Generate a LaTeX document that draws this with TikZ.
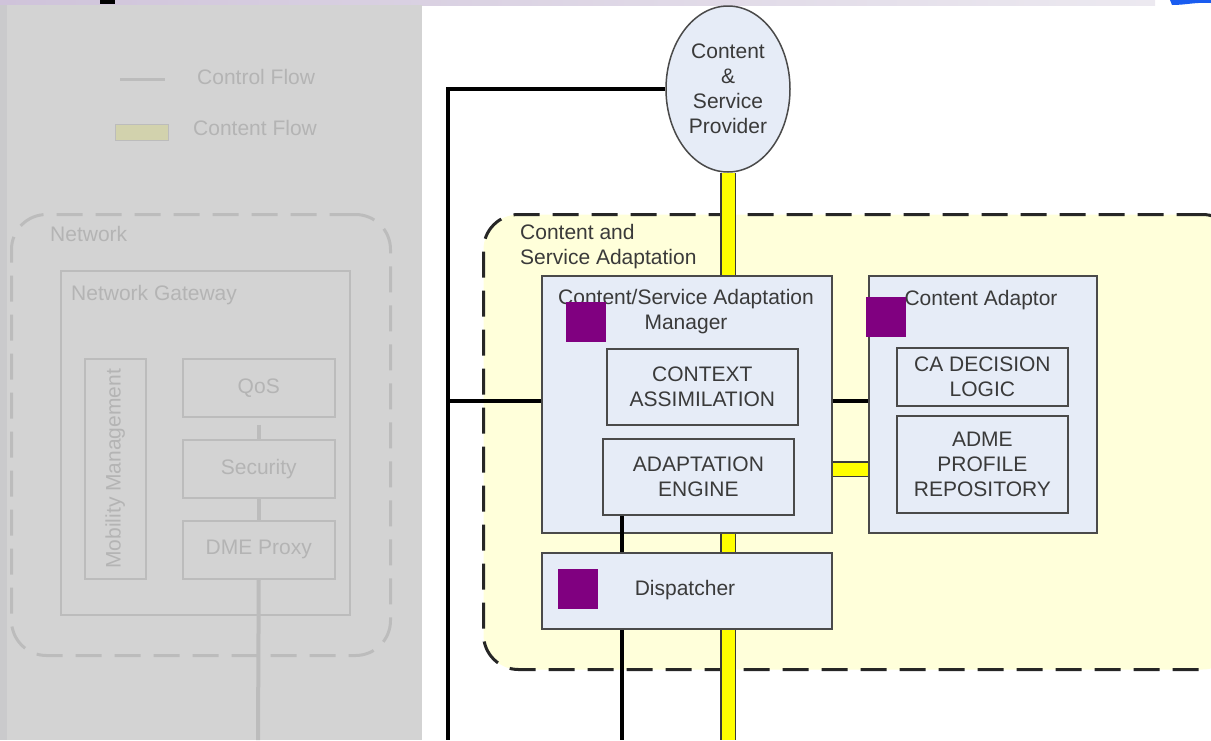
\documentclass[tikz,border=0pt]{standalone}
\usepackage{fontspec}
\setmainfont{Liberation Sans}
\usetikzlibrary{shapes.geometric,calc}

\definecolor{boxfill}{HTML}{E6ECF7}
\definecolor{boxline}{HTML}{4A4A4A}
\definecolor{ink}{HTML}{3A3A3A}
\definecolor{regionfill}{HTML}{FFFFDA}
\definecolor{marker}{HTML}{800080}
\definecolor{panel}{HTML}{D3D3D3}
\definecolor{paneledge}{HTML}{CACACC}
\definecolor{faint}{HTML}{B4B4B4}
\definecolor{faintline}{HTML}{BCBCBC}
\definecolor{legendfill}{HTML}{D2D2AD}
\definecolor{stripL}{HTML}{CFC3DA}
\definecolor{stripR}{HTML}{ECE9F0}
\definecolor{cornerblue}{HTML}{1A5CF0}
\definecolor{flow}{HTML}{FFFF00}

\tikzset{
  box/.style={draw=boxline, fill=boxfill, line width=1.8pt, inner sep=0pt,
              anchor=north west, align=center, text=ink},
  region/.style={draw=black!85, fill=regionfill, line width=3pt,
                 dash pattern=on 26pt off 13pt, rounded corners=35pt,
                 anchor=north west, inner sep=0pt},
  label/.style={text=ink, inner sep=0pt, align=center},
  marksq/.style={fill=marker, minimum size=40pt, inner sep=0pt, anchor=north west},
  ctrl/.style={draw=black, line width=4.5pt},
  content/.style={draw=ink, line width=1.4pt, double=flow, double distance=13pt},
  fbox/.style={draw=faintline, line width=1.5pt, inner sep=0pt, anchor=north west,
               text=faint, align=center},
  ftext/.style={text=faint, inner sep=0pt},
  fline/.style={draw=faintline, line width=4pt},
}

\begin{document}
\begin{tikzpicture}[x=1pt, y=-1pt, font=\fontsize{21}{25}\selectfont]
\useasboundingbox (0,0) rectangle (1211,740);

% page decoration
\shade[left color=stripL, right color=stripR] (0,0) rectangle (1155,5);
\fill[black] (100,0) rectangle (115,4);
\fill[cornerblue] (1170,0) -- (1211,0) -- (1211,3)
  .. controls (1195,2) and (1186,5) .. (1172,5) -- cycle;

% ---------------- grey panel: network side ----------------
\fill[panel] (0,5) rectangle (422,740);
\fill[paneledge] (0,5) rectangle (7,740);

% legend
\coordinate (lg1) at (120,79);
\coordinate (lg2) at (165,79);
\draw[draw=faintline, line width=3pt] (lg1) -- (lg2);
\node[ftext, anchor=west] (lgt1) at (197,77) {Control Flow};
\node[draw=faintline, fill=legendfill, line width=1.2pt, inner sep=0pt,
      minimum width=53pt, minimum height=16pt, anchor=north west] (lgbox) at (115,124) {};
\node[ftext, anchor=west] (lgt2) at (193,128) {Content Flow};

% network container
\node[fbox, draw=faintline, line width=3pt, dash pattern=on 26pt off 13pt,
      rounded corners=35pt, minimum width=379pt, minimum height=441pt] (net) at (10,213) {};
\node[ftext, anchor=west] (nett) at (50,234) {Network};
\node[fbox, minimum width=289pt, minimum height=344pt] (gw) at (60,270) {};
\node[ftext, anchor=west] (gwt) at (71,295) {Network Gateway};

\node[fbox, minimum width=61pt, minimum height=220pt] (mob) at (84,358) {};
\node[ftext, rotate=90] (mobt) at (mob.center) {Mobility Management};
\node[fbox, minimum width=152pt, minimum height=58pt] (qos) at (182,358) {QoS};
\node[fbox, minimum width=152pt, minimum height=58pt] (sec) at (182,439) {Security};
\node[fbox, minimum width=152pt, minimum height=58pt] (dme) at (182,520) {DME Proxy};
\coordinate (dmeout) at (258,740);
\draw[fline] ($(qos.south)+(0,7)$) -- (sec.north);
\draw[fline] (sec.south) -- (dme.north);
\draw[fline] (dme.south) -- (dmeout);

% ---------------- adaptation side ----------------
\node[region, minimum width=754pt, minimum height=455pt] (csa) at (482,213) {};
\node[label, anchor=west, align=left] (csat) at (520,247) {Content and\\Service Adaptation};

\node[ellipse, draw=boxline, fill=boxfill, line width=1.5pt, inner sep=0pt,
      minimum width=124pt, minimum height=166pt, align=center, text=ink]
      (prov) at (728,89) {Content\\\&\\Service\\Provider};

% adaptation manager
\node[box, minimum width=290pt, minimum height=257pt] (csam) at (541,275) {};
\node[label] (csamt) at (686,312) {Content/Service Adaptation\\Manager};
\node[marksq] (sq1) at (566,302) {};
\node[box, minimum width=191pt, minimum height=76pt] (cx) at (606,348) {CONTEXT\\ASSIMILATION};
\node[box, minimum width=191pt, minimum height=76pt] (ae) at (602,438) {ADAPTATION\\ENGINE};

% content adaptor
\node[box, minimum width=228pt, minimum height=257pt] (ca) at (868,275) {};
\node[label] (cat) at (981,300) {Content Adaptor};
\node[marksq] (sq2) at (866,297) {};
\node[box, minimum width=171pt, minimum height=58pt] (cdl) at (896,347) {CA DECISION\\LOGIC};
\node[box, minimum width=171pt, minimum height=97pt] (adme) at (896,415) {ADME\\PROFILE\\REPOSITORY};

% dispatcher
\node[box, minimum width=290pt, minimum height=76pt] (disp) at (541,552) {};
\node[label] (dispt) at (685,590) {Dispatcher};
\node[marksq] (sq3) at (558,569) {};

% control flow
\coordinate (lbot) at (448,740);
\coordinate (j) at (448,401);
\draw[ctrl] (prov.west) -| (lbot);
\draw[ctrl] (j) -- (j -| csam.west);
\draw[ctrl] (csam.east |- j) -- (ca.west |- j);
\coordinate (dbot) at (622,740);
\draw[ctrl] (dbot |- ae.south) -- (dbot |- disp.north);
\draw[ctrl] (dbot |- disp.south) -- (dbot);

% content flow
\coordinate (ybot) at (728,740);
\coordinate (k) at (850,469);
\draw[content] (prov.south) -- (ybot |- csam.north);
\draw[content] (ybot |- csam.south) -- (ybot |- disp.north);
\draw[content] (ybot |- disp.south) -- (ybot);
\draw[content] (csam.east |- k) -- (ca.west |- k);

\end{tikzpicture}
\end{document}
